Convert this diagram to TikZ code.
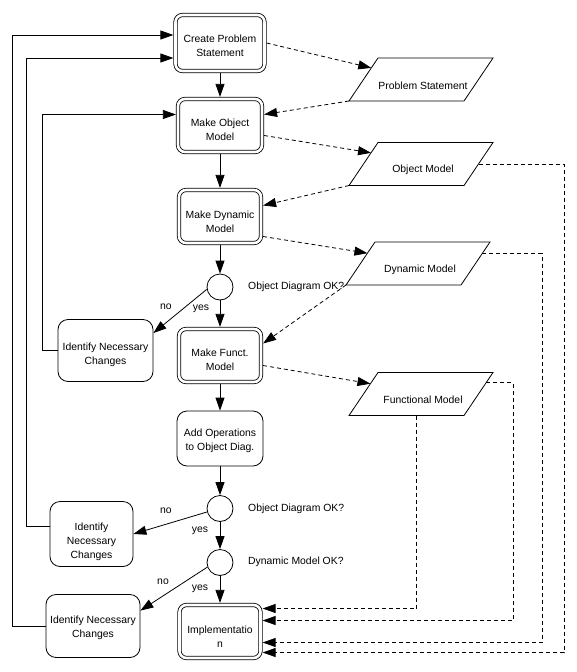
\documentclass[tikz,border=0pt]{standalone}
\usepackage{fontspec}
\setmainfont{Liberation Sans}
\usetikzlibrary{arrows.meta,calc}
\newcommand\paragram[4]{%
  \coordinate (#1-tl) at ({#2-43},{#3-21.5});
  \coordinate (#1-tr) at ({#2+72},{#3-21.5});
  \coordinate (#1-br) at ({#2+43},{#3+21.5});
  \coordinate (#1-bl) at ({#2-72},{#3+21.5});
  \draw[shapeline] (#1-tl) -- (#1-tr) -- (#1-br) -- (#1-bl) -- cycle;
  \node[txt] (#1) at ({#2+2},{#3+6}) {#4};
}
\tikzset{
  every node/.style={font=\fontsize{10.4pt}{14pt}\selectfont},
  dbox/.style={draw, double, double distance=2.6pt, line width=0.8pt, rounded corners=7pt,
    outer sep=2.1pt, minimum width=82pt, minimum height=53pt, inner sep=1pt},
  sbox/.style={draw, line width=0.8pt, rounded corners=10pt, inner sep=1pt},
  inl/.style={align=center, inner sep=0pt},
  dec/.style={draw, circle, line width=0.8pt, minimum size=26pt, inner sep=0pt},
  flow/.style={line width=0.8pt, -{Triangle[length=13pt,width=9pt]}},
  data/.style={flow, dash pattern=on 4pt off 3pt},
  shapeline/.style={line width=0.8pt},
  txt/.style={inner sep=0pt},
  lbl/.style={inner sep=0pt},
}
\begin{document}
\begin{tikzpicture}[x=1pt,y=-1pt]
\useasboundingbox[fill=white] (0,0) rectangle (576,672);

% main flow
\node[dbox, minimum width=89pt, minimum height=56pt,
  label={[inl, yshift=-3pt]center:Create Problem\\Statement}] (cps) at (220,43) {};
\node[dbox, minimum width=84pt,
  label={[inl, yshift=-4.5pt]center:Make Object\\Model}] (mom) at (220,125.5) {};
\node[dbox, label={[inl, yshift=-5pt]center:Make Dynamic\\Model}] (mdm) at (220,216.5) {};
\node[dec] (d1) at (220,287) {};
\node[dbox, label={[inl, yshift=-4.5pt]center:Make Funct.\\Model}] (mfm) at (220,355.5) {};
\node[sbox, minimum width=86pt, minimum height=55pt,
  label={[inl, yshift=-2pt]center:Add Operations\\to Object Diag.}] (ops) at (220,438.5) {};
\node[dec] (d2) at (220,508.5) {};
\node[dec] (d3) at (220,562.5) {};
\node[dbox, minimum width=81pt,
  label={[inl, yshift=-5pt]center:Implementatio\\n}] (impl) at (220,631.5) {};

% identify boxes
\node[sbox, minimum width=95pt, minimum height=62pt,
  label={[inl, yshift=-4pt]center:Identify Necessary\\Changes}] (id1) at (105.5,350.5) {};
\node[sbox, minimum width=83pt, minimum height=65pt,
  label={[inl, yshift=-8pt]center:Identify\\Necessary\\Changes}] (id2) at (91.5,534) {};
\node[sbox, minimum width=94pt, minimum height=63pt,
  label={[inl, yshift=-1.5pt]center:Identify Necessary\\Changes}] (id3) at (93,626) {};

% questions and labels
\node[lbl, anchor=west] (q1) at (248,287) {Object Diagram OK?};
\node[lbl, anchor=west] (q2) at (248,509) {Object Diagram OK?};
\node[lbl, anchor=west] (q3) at (248,562) {Dynamic Model OK?};
\node[lbl] (no1) at (166,307) {no};
\node[lbl] (yes1) at (201,309) {yes};
\node[lbl] (no2) at (166,511) {no};
\node[lbl] (yes2) at (200,531) {yes};
\node[lbl] (no3) at (163,582) {no};
\node[lbl] (yes3) at (200,589) {yes};

% data parallelograms
\paragram{ps}{421}{79.5}{Problem Statement}
\paragram{om}{421}{164}{Object Model}
\paragram{dm}{418}{263.5}{Dynamic Model}
\paragram{fm}{421}{394}{Functional Model}

% solid flow
\draw[flow] (cps.south) -- (mom.north);
\draw[flow] (mom.south) -- (mdm.north);
\draw[flow] (mdm.south) -- (d1.north);
\draw[flow] (d1.south) -- (mfm.north);
\draw[flow] (d1.190) -- (id1.20);
\draw[flow] (mfm.south) -- (ops.north);
\draw[flow] (ops.south) -- (d2.north);
\draw[flow] (d2.195) -- (id2.east);
\draw[flow] (d2.south) -- (d3.north);
\draw[flow] (d3.200) -- (id3.18);
\draw[flow] (d3.south) -- (impl.north);

% feedback loops
\draw[flow] (id1.west) -- ++(-15,0) |- ($(mom.west)+(0,-11)$);
\draw[flow] ($(id2.west)+(0,-8)$) -- ++(-23,0) |- ($(cps.west)+(0,15)$);
\draw[flow] (id3.west) -- ++(-33,0) |- ($(cps.west)+(0,-8)$);

% dashed data flows
\draw[data] (cps.east) -- ($(ps-tl)!0.23!(ps-bl)$);
\draw[data] (ps-bl) -- ($(mom.east)+(0,-11)$);
\draw[data] ($(mom.east)+(0,10)$) -- ($(om-tl)!0.24!(om-bl)$);
\draw[data] (om-bl) -- ($(mdm.east)+(0,-11)$);
\draw[data] ($(mdm.east)+(0,20)$) -- ($(dm-tl)!0.26!(dm-bl)$);
\draw[data] (dm-bl) -- ($(mfm.east)+(0,-12)$);
\draw[data] ($(mfm.east)+(0,10)$) -- ($(fm-tl)!0.26!(fm-bl)$);

\coordinate (omr) at ($(om-tr)!0.5!(om-br)$);
\coordinate (dmr) at ($(dm-tr)!0.26!(dm-br)$);
\coordinate (fmr) at ($(fm-tr)!0.24!(fm-br)$);
\coordinate (fmb) at ($(fm-bl)!0.59!(fm-br)$);
\coordinate (x1) at (564,0);
\coordinate (x2) at (542,0);
\coordinate (x3) at (513,0);
\draw[data] (omr) -- (omr -| x1) |- ($(impl.east)+(0,21)$);
\draw[data] (dmr) -- (dmr -| x2) |- ($(impl.east)+(0,11)$);
\draw[data] (fmr) -- (fmr -| x3) |- ($(impl.east)+(0,-11)$);
\draw[data] (fmb) |- ($(impl.east)+(0,-23)$);
\end{tikzpicture}
\end{document}
